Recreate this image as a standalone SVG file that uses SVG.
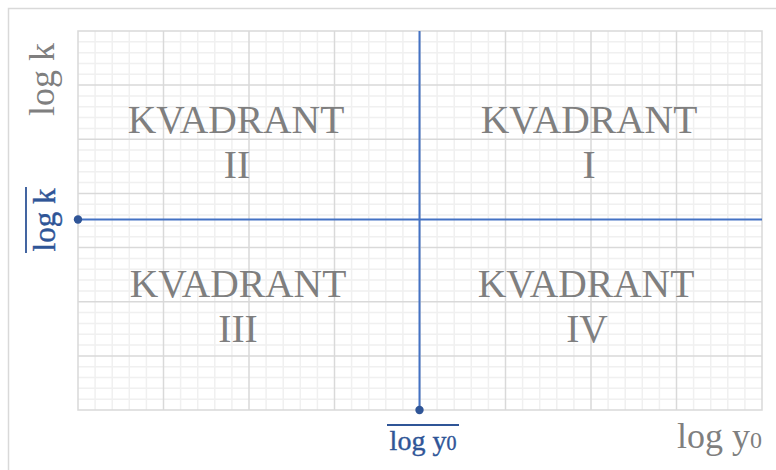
<svg xmlns="http://www.w3.org/2000/svg" width="776" height="470" viewBox="0 0 776 470">
<style>
.minor{stroke:#f0f0f0;stroke-width:1.5;fill:none}
.major{stroke:#d9d9d9;stroke-width:1.5;fill:none}
.frame{stroke:#d9d9d9;stroke-width:1.5;fill:none}
.axis{stroke:#4472c4;stroke-width:2;fill:none}
.dot{fill:#2f5597}
.q{font-family:"Liberation Serif","Times New Roman",serif;font-size:39.5px;fill:#7f7f7f;text-anchor:middle}
.gl{font-family:"Liberation Serif","Times New Roman",serif;fill:#7f7f7f}
.bl{font-family:"Liberation Serif","Times New Roman",serif;fill:#2f5597;stroke:#2f5597;stroke-width:0.4}
.ov{stroke:#2f5597;stroke-width:1.8}
</style>
<rect width="776" height="470" fill="#ffffff"/>
<path class="frame" d="M8.5,470 V8.5 H776"/>
<g id="grid">
<path class="minor" d="M95.1,31V410M112.2,31V410M129.3,31V410M146.4,31V410M180.6,31V410M197.7,31V410M214.8,31V410M231.9,31V410M266.1,31V410M283.2,31V410M300.3,31V410M317.4,31V410M351.6,31V410M368.7,31V410M385.8,31V410M402.9,31V410M437.1,31V410M454.2,31V410M471.3,31V410M488.4,31V410M522.6,31V410M539.7,31V410M556.8,31V410M573.9,31V410M608.1,31V410M625.2,31V410M642.3,31V410M659.4,31V410M693.6,31V410M710.7,31V410M727.8,31V410M744.9,31V410
M78,41.8H762M78,52.7H762M78,63.5H762M78,74.3H762M78,96H762M78,106.8H762M78,117.6H762M78,128.5H762M78,150.1H762M78,160.9H762M78,171.8H762M78,182.6H762M78,204.3H762M78,215.1H762M78,225.9H762M78,236.7H762M78,258.4H762M78,269.2H762M78,280.1H762M78,290.9H762M78,312.5H762M78,323.4H762M78,334.2H762M78,345H762M78,366.7H762M78,377.5H762M78,388.3H762M78,399.2H762"/>
<path class="major" d="M163.5,31V410M249,31V410M334.5,31V410M420,31V410M505.5,31V410M591,31V410M676.5,31V410
M78,85.1H762M78,139.3H762M78,193.4H762M78,247.6H762M78,301.7H762M78,355.9H762"/>
<rect class="major" x="78" y="31" width="684" height="379"/>
</g>
<g id="connectors">
<line class="axis" x1="78" y1="219.5" x2="762" y2="219.5"/>
<line class="axis" x1="419.5" y1="31" x2="419.5" y2="410"/>
<circle class="dot" cx="78" cy="219.5" r="4.2"/>
<circle class="dot" cx="419.5" cy="410" r="4.2"/>
</g>
<g id="quadrant-2"><text class="q" x="236" y="133">KVADRANT</text><text class="q" x="237" y="178">II</text></g>
<g id="quadrant-1"><text class="q" x="589" y="133">KVADRANT</text><text class="q" x="589" y="178">I</text></g>
<g id="quadrant-3"><text class="q" x="238" y="297">KVADRANT</text><text class="q" x="238" y="342">III</text></g>
<g id="quadrant-4"><text class="q" x="586" y="297">KVADRANT</text><text class="q" x="587" y="342">IV</text></g>
<g id="label-logk"><text class="gl" font-size="36" x="54" y="79.5" text-anchor="middle" transform="rotate(-90 54 79.5)">log k</text></g>
<g id="label-logy0"><text class="gl" font-size="36" x="762" y="448" text-anchor="end">log y<tspan font-size="24">0</tspan></text></g>
<g id="label-logk-bar"><text class="bl" font-size="31" x="55" y="220" text-anchor="middle" transform="rotate(-90 55 220)">log k</text><line class="ov" x1="26" y1="187" x2="26" y2="253"/></g>
<g id="label-logy0-bar"><text class="bl" font-size="28" x="423" y="450" text-anchor="middle">log y<tspan font-size="20">0</tspan></text><line class="ov" x1="387" y1="425" x2="459" y2="425"/></g>
</svg>
